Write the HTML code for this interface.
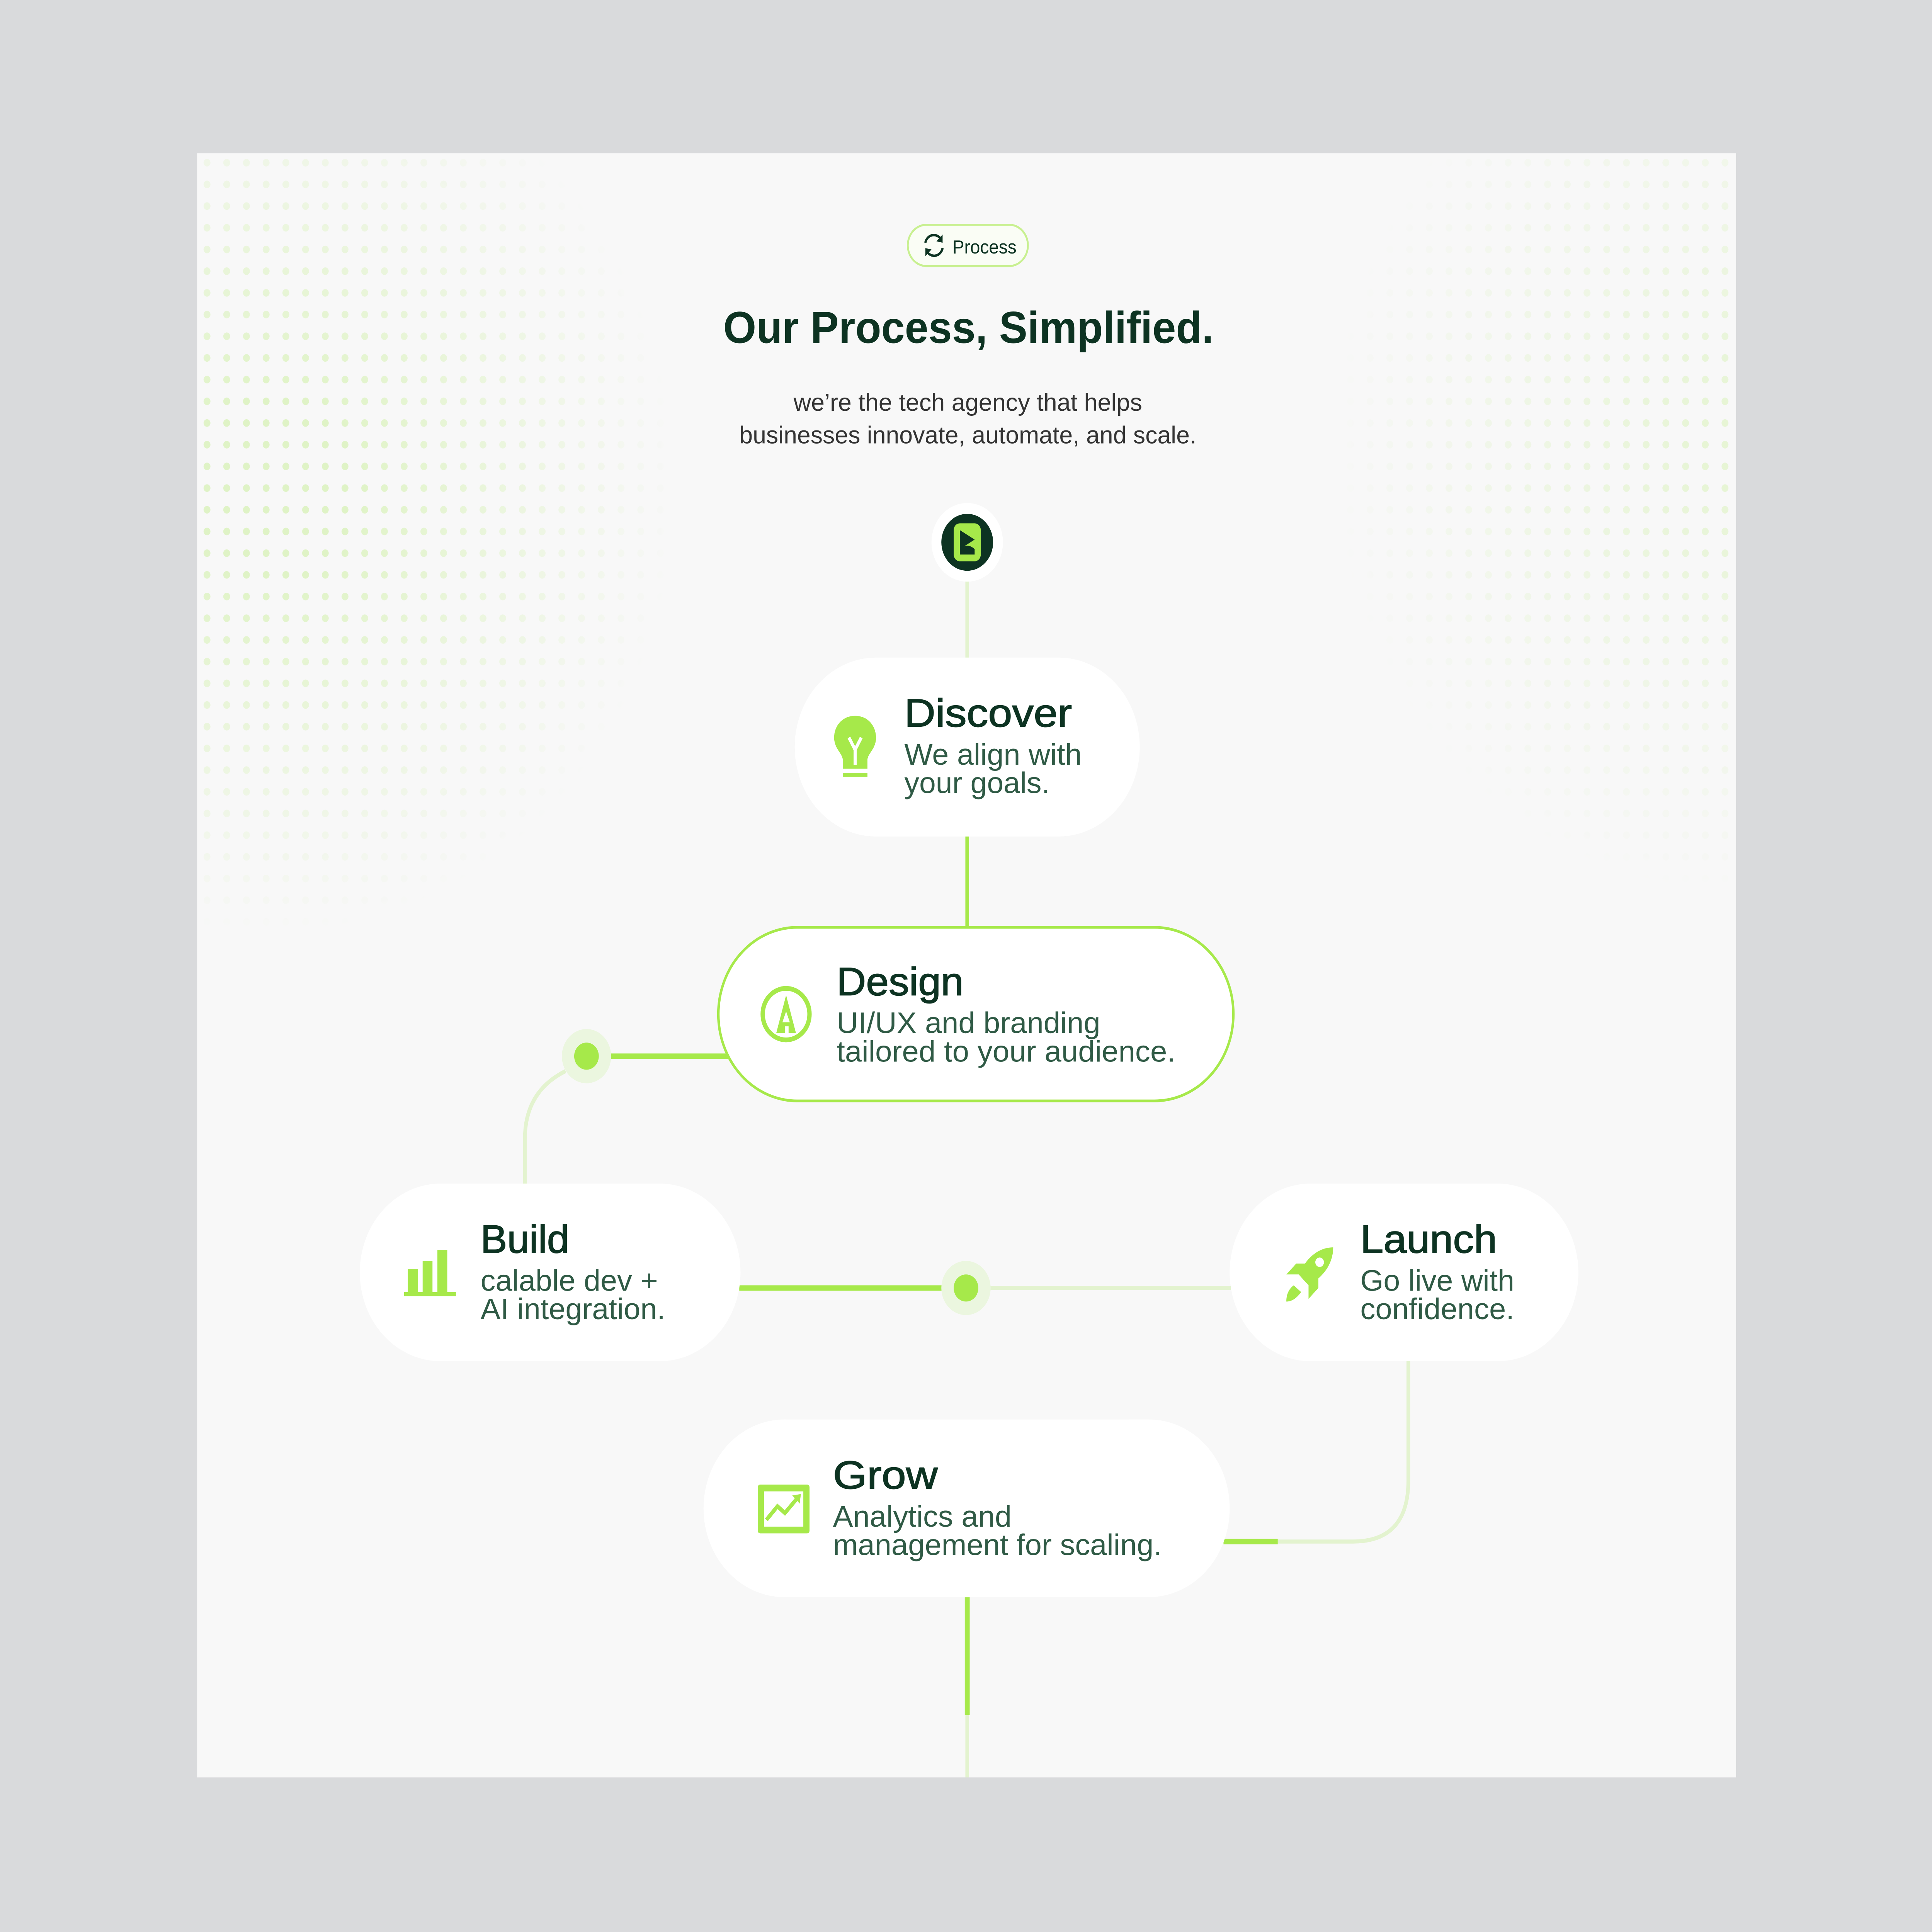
<!DOCTYPE html>
<html><head><meta charset="utf-8"><style>
html,body{margin:0;padding:0;width:100%;height:100%;overflow:hidden;background:#d9dadc}
svg{display:block;position:fixed;left:0;top:0;width:100vw;height:100vh}
.h{stroke:#0d3322;stroke-width:0.5}
</style></head><body>
<svg viewBox="0 0 1568 1425" preserveAspectRatio="none" xmlns="http://www.w3.org/2000/svg" font-family="Liberation Sans, sans-serif">
<defs>
 <pattern id="dp" width="16" height="16" patternUnits="userSpaceOnUse"><circle cx="8" cy="8" r="2.8" fill="#dff3c6"/></pattern>
 <radialGradient id="g1" cx="220" cy="360" r="330" gradientUnits="userSpaceOnUse"><stop offset="0.2" stop-color="#fff"/><stop offset="1" stop-color="#fff" stop-opacity="0"/></radialGradient>
 <radialGradient id="g2" cx="1409" cy="330" r="330" gradientUnits="userSpaceOnUse"><stop offset="0.1" stop-color="#fff" stop-opacity="0.7"/><stop offset="1" stop-color="#fff" stop-opacity="0"/></radialGradient>
 <mask id="m1"><rect x="160" y="113" width="420" height="620" fill="url(#g1)"/></mask>
 <mask id="m2"><rect x="1060" y="113" width="349" height="580" fill="url(#g2)"/></mask>
</defs>
<rect width="1568" height="1425" fill="#d9dadc"/>
<rect x="160" y="113" width="1249" height="1198" fill="#f8f8f8"/>
<rect x="160" y="113" width="420" height="620" fill="url(#dp)" mask="url(#m1)"/>
<rect x="1060" y="113" width="349" height="580" fill="url(#dp)" mask="url(#m2)"/>

<line x1="785" y1="428" x2="785" y2="486" stroke="#e3f3cf" stroke-width="3"/>
<line x1="785" y1="616" x2="785" y2="684" stroke="#a6e94a" stroke-width="3"/>
<path d="M459 790 Q426 805 426 840 L426 874" fill="none" stroke="#e3f3cf" stroke-width="3"/>
<line x1="496" y1="779" x2="592" y2="779" stroke="#a6e94a" stroke-width="4"/>
<line x1="600" y1="950" x2="765" y2="950" stroke="#a6e94a" stroke-width="4"/>
<line x1="803" y1="950" x2="999" y2="950" stroke="#e3f3cf" stroke-width="3"/>
<path d="M1143 1004 L1143 1092 Q1143 1137 1098 1137 L1037 1137" fill="none" stroke="#e3f3cf" stroke-width="3"/>
<line x1="993" y1="1137" x2="1037" y2="1137" stroke="#a6e94a" stroke-width="4"/>
<line x1="785" y1="1178" x2="785" y2="1265" stroke="#a6e94a" stroke-width="4"/>
<line x1="785" y1="1265" x2="785" y2="1311" stroke="#e3f3cf" stroke-width="3"/>
<circle cx="476" cy="779" r="20" fill="#ebf6df"/><circle cx="476" cy="779" r="10" fill="#a6e94a"/>
<circle cx="784" cy="950" r="20" fill="#ebf6df"/><circle cx="784" cy="950" r="10" fill="#a6e94a"/>
<circle cx="785" cy="400" r="29" fill="#fff"/><circle cx="785" cy="400" r="21" fill="#0d3322"/>
<rect x="774" y="386" width="22" height="28" rx="5" fill="#a6e94a"/>
<path d="M779 391 L791 398 L779 405 Z M779 405 Q785 400 791 405 L791 409 L779 409Z" fill="#0d3322"/>

<rect x="736.75" y="165.75" width="97.5" height="30.5" rx="15.25" fill="#fafdf5" stroke="#c8f090" stroke-width="1.5"/>
<g transform="translate(747,170)"><path d="M4 9 A7 7 0 0 1 17 7 M18 13 A7 7 0 0 1 5 15" fill="none" stroke="#0d3322" stroke-width="1.8"/><path d="M18 3 L18 9 L13 8Z M4 19 L4 13 L9 14Z" fill="#0d3322"/></g>
<text x="773" y="187" font-size="14" fill="#0d3322" textLength="52" lengthAdjust="spacingAndGlyphs">Process</text>
<text x="587" y="253" font-size="33" font-weight="bold" fill="#0d3322" textLength="398" lengthAdjust="spacingAndGlyphs">Our Process, Simplified.</text>
<text x="644" y="303" font-size="18" fill="#333" textLength="283" lengthAdjust="spacingAndGlyphs">we’re the tech agency that helps</text>
<text x="600" y="327" font-size="18" fill="#333" textLength="371" lengthAdjust="spacingAndGlyphs">businesses innovate, automate, and scale.</text>

<rect x="645" y="485" width="280" height="132" rx="66" fill="#fff"/>
<g transform="translate(674,526)"><path d="M20 2 C9 2 3 10 3 18 C3 26 9 29 10 34 L10 41 L30 41 L30 34 C31 29 37 26 37 18 C37 10 31 2 20 2Z" fill="#a6e94a"/><path d="M15 18 L20 27 L25 18 M20 27 L20 38" stroke="#fff" stroke-width="2.5" fill="none"/><rect x="10" y="44" width="20" height="3" fill="#a6e94a"/></g>
<text class="h" x="734" y="536" font-size="29" fill="#0d3322" textLength="136" lengthAdjust="spacingAndGlyphs">Discover</text>
<text x="734" y="564" font-size="22" fill="#2f5a45" textLength="144" lengthAdjust="spacingAndGlyphs">We align with</text>
<text x="734" y="585" font-size="22" fill="#2f5a45" textLength="118" lengthAdjust="spacingAndGlyphs">your goals.</text>

<rect x="583" y="684" width="418" height="128" rx="64" fill="#fff" stroke="#a6e94a" stroke-width="2"/>
<g transform="translate(616,726)"><circle cx="22" cy="22" r="19" fill="none" stroke="#a6e94a" stroke-width="3.5"/><path d="M22 8 L14 36 L30 36Z" fill="#a6e94a"/><path d="M19 28 L22 20 L25 28Z" fill="#fff"/><rect x="21" y="31" width="3" height="7" fill="#fff"/></g>
<text class="h" x="679" y="734" font-size="29" fill="#0d3322" textLength="103" lengthAdjust="spacingAndGlyphs">Design</text>
<text x="679" y="762" font-size="22" fill="#2f5a45" textLength="214" lengthAdjust="spacingAndGlyphs">UI/UX and branding</text>
<text x="679" y="783" font-size="22" fill="#2f5a45" textLength="275" lengthAdjust="spacingAndGlyphs">tailored to your audience.</text>

<rect x="292" y="873" width="309" height="131" rx="65.5" fill="#fff"/>
<g transform="translate(328,920)"><rect x="3" y="16" width="8" height="18" fill="#a6e94a"/><rect x="15" y="10" width="8" height="24" fill="#a6e94a"/><rect x="27" y="2" width="8" height="32" fill="#a6e94a"/><rect x="0" y="33" width="42" height="3" fill="#a6e94a"/></g>
<text class="h" x="390" y="924" font-size="29" fill="#0d3322" textLength="72" lengthAdjust="spacingAndGlyphs">Build</text>
<text x="390" y="952" font-size="22" fill="#2f5a45" textLength="144" lengthAdjust="spacingAndGlyphs">calable dev +</text>
<text x="390" y="973" font-size="22" fill="#2f5a45" textLength="150" lengthAdjust="spacingAndGlyphs">AI integration.</text>

<rect x="998" y="873" width="283" height="131" rx="65.5" fill="#fff"/>
<g transform="translate(1040,918)"><path d="M42 2 C30 2 20 10 14 22 L22 30 C34 24 42 14 42 2Z" fill="#a6e94a"/><path d="M14 22 L4 22 L12 14 L22 14Z M22 30 L22 40 L30 32 L30 22Z" fill="#a6e94a"/><path d="M10 30 C4 34 4 40 4 42 C8 42 12 40 16 35Z" fill="#a6e94a"/><circle cx="31" cy="13" r="3.5" fill="#fff"/></g>
<text class="h" x="1104" y="924" font-size="29" fill="#0d3322" textLength="111" lengthAdjust="spacingAndGlyphs">Launch</text>
<text x="1104" y="952" font-size="22" fill="#2f5a45" textLength="125" lengthAdjust="spacingAndGlyphs">Go live with</text>
<text x="1104" y="973" font-size="22" fill="#2f5a45" textLength="125" lengthAdjust="spacingAndGlyphs">confidence.</text>

<rect x="571" y="1047" width="427" height="131" rx="65.5" fill="#fff"/>
<g transform="translate(613,1093)"><rect x="2" y="2" width="42" height="36" rx="2" fill="#a6e94a"/><rect x="7" y="7" width="32" height="26" fill="#fff"/><path d="M9 28 L18 18 L24 23 L35 11" stroke="#a6e94a" stroke-width="3" fill="none"/><path d="M30 10 L37 9 L36 16Z" fill="#a6e94a"/></g>
<text class="h" x="676" y="1098" font-size="29" fill="#0d3322" textLength="85" lengthAdjust="spacingAndGlyphs">Grow</text>
<text x="676" y="1126" font-size="22" fill="#2f5a45" textLength="145" lengthAdjust="spacingAndGlyphs">Analytics and</text>
<text x="676" y="1147" font-size="22" fill="#2f5a45" textLength="267" lengthAdjust="spacingAndGlyphs">management for scaling.</text>
</svg>
</body></html>
